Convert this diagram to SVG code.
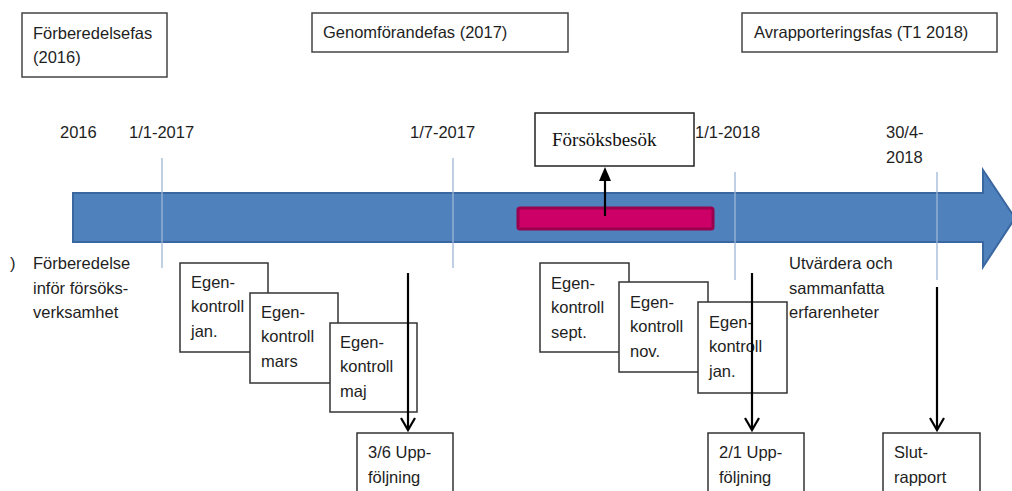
<svg xmlns="http://www.w3.org/2000/svg" width="1012" height="491" viewBox="0 0 1012 491">
  <defs>
    <style>
      .t { font-family: "Liberation Sans", Arial, sans-serif; font-size: 16.5px; fill: #1e1e1e; }
      .serif { font-family: "Liberation Serif", "Times New Roman", serif; font-size: 19px; fill: #111; }
      .box { fill: #ffffff; stroke: #333333; stroke-width: 1.5; }
      .phase { fill: #ffffff; stroke: #444444; stroke-width: 1.5; }
      .tick { stroke: #9db7d6; stroke-width: 1.3; }
      .conn { stroke: #000000; stroke-width: 2.2; fill: none; }
    </style>
  </defs>
  <rect width="1012" height="491" fill="#ffffff"/>

  <!-- phase headers -->
  <g id="phase-prep">
    <rect class="phase" x="22" y="13" width="145" height="64"/>
    <text class="t" x="33" y="39">Förberedelsefas</text>
    <text class="t" x="33" y="63">(2016)</text>
  </g>
  <g id="phase-exec">
    <rect class="phase" x="312" y="13" width="256" height="39"/>
    <text class="t" x="323" y="38">Genomförandefas (2017)</text>
  </g>
  <g id="phase-report">
    <rect class="phase" x="742" y="13" width="255" height="39"/>
    <text class="t" x="754" y="38">Avrapporteringsfas (T1 2018)</text>
  </g>

  <!-- date labels -->
  <g id="dates">
    <text class="t" x="60" y="138">2016</text>
    <text class="t" x="129" y="138">1/1-2017</text>
    <text class="t" x="410" y="138">1/7-2017</text>
    <text class="t" x="695" y="138">1/1-2018</text>
    <text class="t" x="886" y="138">30/4-</text>
    <text class="t" x="886" y="163">2018</text>
  </g>

  <!-- timeline arrow -->
  <g id="timeline">
    <path d="M73,193 H983 V170 L1015,218 L983,267 V242 H73 Z" fill="#4f81bd" stroke="#3b67a0" stroke-width="2"/>
    <rect x="518" y="208" width="195" height="21" rx="2" fill="#cc0066" stroke="#99004d" stroke-width="3"/>
  </g>

  <!-- tick marks -->
  <g id="ticks">
    <line class="tick" x1="162" y1="158" x2="162" y2="268"/>
    <line class="tick" x1="453" y1="158" x2="453" y2="268"/>
    <line class="tick" x1="735" y1="172" x2="735" y2="280"/>
    <line class="tick" x1="937" y1="172" x2="937" y2="280"/>
  </g>

  <g id="visit">
    <rect x="535" y="113" width="159" height="53" fill="#ffffff" stroke="#222222" stroke-width="1.5"/>
    <text class="serif" x="552" y="146">Försöksbesök</text>
  </g>

  <!-- free text -->
  <g id="prep-text">
    <text class="t" x="10" y="269">)</text>
    <text class="t" x="33" y="269">Förberedelse</text>
    <text class="t" x="33" y="294">inför försöks-</text>
    <text class="t" x="33" y="318">verksamhet</text>
  </g>
  <g id="eval-text">
    <text class="t" x="789" y="269">Utvärdera och</text>
    <text class="t" x="789" y="294">sammanfatta</text>
    <text class="t" x="789" y="318">erfarenheter</text>
  </g>

  <!-- self-inspection boxes, 2017 -->
  <g id="ek-jan">
    <rect class="box" x="180" y="263" width="88" height="89"/>
    <text class="t" x="191" y="288">Egen-</text>
    <text class="t" x="191" y="312">kontroll</text>
    <text class="t" x="191" y="337">jan.</text>
  </g>
  <g id="ek-mars">
    <rect class="box" x="250" y="293" width="88" height="90"/>
    <text class="t" x="261" y="318">Egen-</text>
    <text class="t" x="261" y="342">kontroll</text>
    <text class="t" x="261" y="367">mars</text>
  </g>
  <g id="ek-maj">
    <rect class="box" x="330" y="323" width="87" height="89"/>
    <text class="t" x="340" y="348">Egen-</text>
    <text class="t" x="340" y="372">kontroll</text>
    <text class="t" x="340" y="397">maj</text>
  </g>

  <!-- self-inspection boxes, autumn -->
  <g id="ek-sept">
    <rect class="box" x="540" y="263" width="89" height="89"/>
    <text class="t" x="551" y="289">Egen-</text>
    <text class="t" x="551" y="313">kontroll</text>
    <text class="t" x="551" y="338">sept.</text>
  </g>
  <g id="ek-nov">
    <rect class="box" x="619" y="282" width="89" height="90"/>
    <text class="t" x="630" y="308">Egen-</text>
    <text class="t" x="630" y="332">kontroll</text>
    <text class="t" x="630" y="357">nov.</text>
  </g>
  <g id="ek-jan2">
    <rect class="box" x="698" y="302" width="89" height="91"/>
    <text class="t" x="709" y="328">Egen-</text>
    <text class="t" x="709" y="352">kontroll</text>
    <text class="t" x="709" y="377">jan.</text>
  </g>

  <!-- follow-up boxes -->
  <g id="uppf-juni">
    <rect class="box" x="357" y="433" width="96" height="70"/>
    <text class="t" x="368" y="458">3/6 Upp-</text>
    <text class="t" x="368" y="483">följning</text>
  </g>
  <g id="uppf-jan">
    <rect class="box" x="708" y="433" width="96" height="70"/>
    <text class="t" x="719" y="458">2/1 Upp-</text>
    <text class="t" x="719" y="483">följning</text>
  </g>
  <g id="slutrapport">
    <rect class="box" x="883" y="433" width="97" height="70"/>
    <text class="t" x="894" y="458">Slut-</text>
    <text class="t" x="894" y="483">rapport</text>
  </g>

  <!-- connectors -->
  <g id="connectors">
    <line class="conn" x1="605" y1="216" x2="605" y2="178"/>
    <polygon points="605,167 599,181 611,181" fill="#000000"/>
    <line class="conn" x1="408" y1="273" x2="408" y2="429"/>
    <polyline class="conn" points="401,418 408,430 415,418"/>
    <line class="conn" x1="752" y1="273" x2="752" y2="429"/>
    <polyline class="conn" points="745,418 752,430 759,418"/>
    <line class="conn" x1="937" y1="287" x2="937" y2="429"/>
    <polyline class="conn" points="930,418 937,430 944,418"/>
  </g>
</svg>
